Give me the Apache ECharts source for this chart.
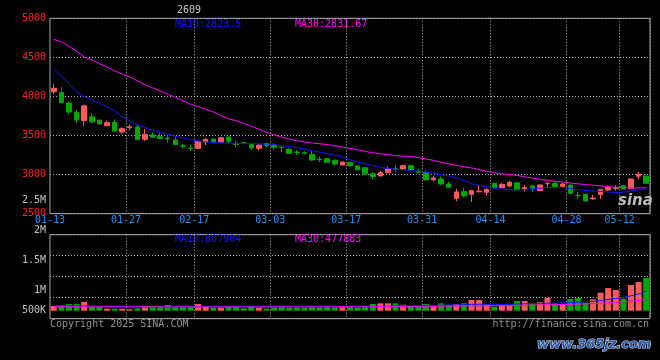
<!DOCTYPE html>
<html><head><meta charset="utf-8">
<script src="https://cdn.jsdelivr.net/npm/echarts@6/dist/echarts.min.js"></script>
<style>html,body{margin:0;padding:0;background:#000;}#c{width:660px;height:360px;}</style>
</head><body><div id="c"></div>
<script>
const dates = ['01-13','01-14','01-15','01-16','01-17','01-20','01-21','01-22','01-23','01-24',
'01-27','02-05','02-06','02-07','02-10','02-11','02-12','02-13','02-14','02-17',
'02-18','02-19','02-20','02-21','02-24','02-25','02-26','02-27','02-28','03-03',
'03-04','03-05','03-06','03-07','03-10','03-11','03-12','03-13','03-14','03-17',
'03-18','03-19','03-20','03-21','03-24','03-25','03-26','03-27','03-28','03-31',
'04-01','04-02','04-03','04-07','04-08','04-09','04-10','04-11','04-14','04-15',
'04-16','04-17','04-18','04-21','04-22','04-23','04-24','04-25','04-28','04-29',
'04-30','05-06','05-07','05-08','05-09','05-12','05-13','05-14','05-15'];
const dateTickLabels = ['01-13','01-27','02-17','03-03','03-17','03-31','04-14','04-28','05-12'];

const openVals = [4060,4050,3915,3795,3690,3740,3698,3625,3668,3545,
3600,3610,3452,3507,3485,3465,3443,3368,3338,3336,
3417,3455,3417,3481,3392,3412,3387,3336,3400,3370,
3350,3323,3288,3280,3259,3198,3204,3182,3123,3157,
3110,3088,3010,2983,3025,3075,3072,3115,3045,3030,
2933,2944,2880,2697,2782,2748,2780,2775,2888,2833,
2855,2895,2816,2855,2795,2885,2889,2850,2867,2735,
2748,2690,2745,2803,2825,2859,2825,2980,2982];
const closeVals = [4104,3920,3800,3700,3880,3675,3648,3665,3558,3588,
3612,3448,3515,3478,3462,3458,3385,3364,3334,3421,
3451,3413,3472,3426,3388,3407,3340,3378,3372,3350,
3346,3272,3284,3275,3187,3194,3157,3136,3161,3114,
3062,3010,2975,3025,3078,3070,3115,3060,3030,2932,
2957,2880,2838,2778,2727,2795,2788,2810,2838,2876,
2901,2805,2833,2818,2868,2890,2846,2880,2761,2730,
2663,2700,2810,2838,2832,2815,2944,3005,2890];
const lowVals = [4031,3915,3775,3660,3625,3660,3645,3622,3550,3519,
3565,3445,3430,3475,3458,3408,3380,3332,3305,3330,
3379,3405,3412,3405,3349,3400,3315,3306,3345,3320,
3293,3265,3250,3258,3180,3161,3150,3120,3118,3100,
3055,3000,2940,2978,3020,3030,3068,3055,3020,2925,
2915,2868,2835,2660,2705,2650,2775,2731,2830,2830,
2838,2800,2782,2782,2790,2838,2840,2845,2755,2684,
2660,2676,2690,2795,2795,2810,2820,2940,2885];
const highVals = [4159,4117,3935,3826,3895,3785,3702,3690,3708,3605,
3640,3643,3583,3536,3528,3515,3478,3392,3380,3443,
3465,3460,3475,3488,3430,3418,3392,3385,3405,3400,
3360,3340,3315,3300,3302,3229,3212,3195,3165,3165,
3115,3095,3030,3047,3102,3123,3128,3125,3072,3051,
2987,2975,2910,2816,2833,2800,2870,2825,2895,2897,
2923,2900,2868,2860,2870,2897,2906,2893,2870,2782,
2752,2740,2815,2863,2863,2865,2950,3034,2995];

const ma10 = [4345,4262,4160,4055,4000,3955,3912,3870,3815,3740,
3690,3635,3605,3565,3540,3515,3490,3468,3448,3432,
3418,3410,3405,3402,3400,3398,3396,3394,3391,3388,
3370,3358,3342,3328,3305,3290,3268,3250,3225,3190,
3160,3140,3118,3092,3080,3070,3062,3050,3045,3030,
3018,3000,2982,2958,2925,2885,2860,2842,2820,2815,
2808,2803,2810,2822,2825,2835,2836,2836,2820,2808,
2798,2790,2786,2778,2770,2775,2790,2805,2823.5];
const ma30 = [4730,4700,4640,4580,4505,4470,4420,4375,4330,4285,
4250,4200,4150,4110,4070,4030,3990,3945,3900,3870,
3835,3800,3755,3715,3690,3655,3620,3580,3540,3510,
3480,3455,3432,3418,3405,3395,3385,3370,3352,3335,
3318,3298,3280,3268,3255,3242,3236,3232,3218,3200,
3182,3160,3136,3120,3100,3085,3065,3042,3025,3008,
3000,2990,2972,2958,2938,2928,2915,2905,2892,2882,
2872,2864,2855,2845,2838,2834,2830,2830,2831.67];

const volumes = [194000,236000,278000,278000,361000,167000,167000,83000,83000,83000,
56000,97000,194000,194000,194000,236000,167000,194000,194000,278000,
194000,125000,125000,194000,194000,97000,194000,125000,83000,139000,
194000,125000,125000,125000,194000,139000,194000,139000,194000,194000,
139000,194000,278000,306000,306000,306000,250000,194000,194000,278000,
194000,306000,236000,278000,306000,444000,444000,264000,167000,236000,
236000,403000,403000,306000,361000,528000,306000,278000,486000,528000,
333000,472000,750000,944000,861000,500000,1069000,1194000,1361000];
const volMa10 = [210000,208000,205000,202000,200000,198000,195000,190000,185000,180000,
170000,160000,150000,145000,145000,148000,150000,155000,160000,165000,
170000,172000,172000,170000,168000,168000,168000,166000,165000,162000,
160000,160000,158000,156000,155000,155000,152000,150000,150000,152000,
155000,160000,168000,180000,190000,200000,205000,210000,212000,215000,
222000,230000,238000,245000,255000,265000,270000,268000,262000,258000,
262000,275000,290000,300000,305000,312000,318000,325000,338000,355000,
372000,390000,420000,470000,510000,555000,620000,700000,807904];
const volMa30 = [165000,165000,164000,164000,163000,163000,162000,162000,161000,161000,
160000,160000,160000,159000,159000,158000,158000,158000,157000,157000,
157000,156000,156000,156000,155000,155000,155000,155000,155000,155000,
156000,156000,156000,157000,157000,158000,158000,159000,160000,161000,
162000,164000,166000,168000,170000,172000,174000,176000,178000,180000,
184000,188000,192000,196000,200000,204000,208000,210000,212000,214000,
218000,222000,228000,234000,240000,246000,252000,258000,266000,274000,
284000,296000,312000,330000,350000,372000,398000,430000,477883];

const priceTicks = {min: 2500, max: 5000, step: 500};
const volTickLabels = {84: '2M', 63: '1.5M', 42: '1M', 21: '500K'};
const legendPrice = ['MA10:2823.5', 'MA30:2831.67'];
const legendVol = ['MA10:807904', 'MA30:477883'];

const MONO = "'DejaVu Sans Mono','Liberation Mono',monospace";
const RED = '#ff5a5a', GREEN = '#00a800', BLUE = '#1414ff', MAG = '#ff00ff';
const GRIDC = '#b0b0b0';
const isTick = (i) => dateTickLabels.indexOf(dates[i]) >= 0;

const chart = echarts.init(document.getElementById('c'), null, {renderer: 'canvas'});
const dotted = {color: GRIDC, type: [1, 2], width: 1};

chart.setOption({
  animation: false,
  backgroundColor: '#000',
  grid: [
    {left: 50, top: 18.3, width: 600, height: 195.4, show: true, borderColor: '#a8a8a8', borderWidth: 1},
    {left: 50, top: 234.7, width: 600, height: 84, show: true, borderColor: '#a8a8a8', borderWidth: 1}
  ],
  xAxis: [
    {type: 'category', gridIndex: 0, data: dates, boundaryGap: true,
     axisLine: {show: false}, axisTick: {show: false},
     axisLabel: {interval: (i) => isTick(i), color: '#1e90ff', fontFamily: MONO, fontSize: 10, margin: 2, padding: [0, 7.6, 0, 0]},
     splitLine: {show: true, interval: (i) => isTick(i) && i > 0, lineStyle: dotted}},
    {type: 'category', gridIndex: 1, data: dates, boundaryGap: true,
     axisLine: {show: false}, axisTick: {show: false}, axisLabel: {show: false},
     splitLine: {show: true, interval: (i) => isTick(i) && i > 0, lineStyle: dotted}}
  ],
  yAxis: [
    {type: 'value', gridIndex: 0, min: priceTicks.min, max: priceTicks.max, interval: priceTicks.step,
     axisLine: {show: false}, axisTick: {show: false},
     axisLabel: {color: '#ff2020', fontFamily: MONO, fontSize: 10, margin: 4, padding: [0, 0, 4, 0],
       formatter: (v) => String(v)},
     splitLine: {show: true, lineStyle: dotted}},
    {type: 'value', gridIndex: 1, min: -333333, max: 3166667,
     axisLine: {show: false}, axisTick: {show: false}, axisLabel: {show: false}, splitLine: {show: false}},
    {type: 'value', gridIndex: 1, min: 0, max: 84, interval: 21, position: 'left',
     axisLine: {show: false}, axisTick: {show: false},
     axisLabel: {margin: 4, color: '#c0c0c0', fontFamily: MONO, fontSize: 10,
       formatter: (v) => {
         const t = volTickLabels[v]; if (!t) return '';
         const k = {84: 'a', 63: 'b', 42: 'c', 21: 'd'}[v];
         return '{' + k + '|' + t + '}';
       },
       rich: {
         a: {color: '#c0c0c0', fontFamily: MONO, fontSize: 10, padding: [0, 0, 8, 0]},
         b: {color: '#c0c0c0', fontFamily: MONO, fontSize: 10, padding: [9, 0, 0, 0]},
         c: {color: '#c0c0c0', fontFamily: MONO, fontSize: 10, padding: [27, 0, 0, 0]},
         d: {color: '#c0c0c0', fontFamily: MONO, fontSize: 10, padding: [25, 0, 0, 0]}
       }},
     splitLine: {show: true, lineStyle: dotted}}
  ],
  series: [
    {type: 'candlestick', xAxisIndex: 0, yAxisIndex: 0, barWidth: 5,
     data: dates.map((d, i) => [openVals[i], closeVals[i], lowVals[i], highVals[i]]),
     itemStyle: {color: RED, color0: GREEN, borderColor: RED, borderColor0: GREEN, borderWidth: 1}},
    {type: 'line', xAxisIndex: 0, yAxisIndex: 0, data: ma10, symbol: 'none', lineStyle: {color: BLUE, width: 1}, z: 3},
    {type: 'line', xAxisIndex: 0, yAxisIndex: 0, data: ma30, symbol: 'none', lineStyle: {color: MAG, width: 1}, z: 3},
    {type: 'bar', xAxisIndex: 1, yAxisIndex: 1, barWidth: 6,
     data: volumes.map((v, i) => ({value: v, itemStyle: {color: closeVals[i] >= openVals[i] ? RED : GREEN}}))},
    {type: 'line', xAxisIndex: 1, yAxisIndex: 1, data: volMa10, symbol: 'none', lineStyle: {color: BLUE, width: 1}, z: 3},
    {type: 'line', xAxisIndex: 1, yAxisIndex: 1, data: volMa30, symbol: 'none', lineStyle: {color: MAG, width: 1}, z: 3}
  ],
  graphic: [
    {type: 'text', x: 177, y: 10, style: {text: '2609', fill: '#c8c8c8', fontFamily: MONO, fontSize: 10, verticalAlign: 'middle'}},
    {type: 'text', x: 175, y: 24, style: {text: legendPrice[0], fill: BLUE, fontFamily: MONO, fontSize: 10, verticalAlign: 'middle'}},
    {type: 'text', x: 295, y: 24, style: {text: legendPrice[1], fill: MAG, fontFamily: MONO, fontSize: 10, verticalAlign: 'middle'}},
    {type: 'text', x: 175, y: 239, style: {text: legendVol[0], fill: BLUE, fontFamily: MONO, fontSize: 10, verticalAlign: 'middle'}},
    {type: 'text', x: 295, y: 239, style: {text: legendVol[1], fill: MAG, fontFamily: MONO, fontSize: 10, verticalAlign: 'middle'}},
    {type: 'text', x: 46, y: 200, style: {text: '2.5M', fill: '#c0c0c0', fontFamily: MONO, fontSize: 10, align: 'right', verticalAlign: 'middle'}},
    {type: 'text', x: 50, y: 324, style: {text: 'Copyright 2025 SINA.COM', fill: '#909090', fontFamily: MONO, fontSize: 10, verticalAlign: 'middle'}},
    {type: 'text', x: 649, y: 324, style: {text: 'http://finance.sina.com.cn', fill: '#909090', fontFamily: MONO, fontSize: 10, align: 'right', verticalAlign: 'middle'}},
    {type: 'text', x: 618, y: 201, z: -1, style: {text: 'sina', fill: '#bdbdbd', font: 'italic bold 15px "DejaVu Sans"', verticalAlign: 'middle'}},
    {type: 'text', x: 537, y: 345, style: {text: 'www.365jz.com', fill: '#2a5aa8', stroke: '#dfe8ff', lineWidth: 1, font: 'italic bold 13px "DejaVu Sans"', verticalAlign: 'middle'}}
  ]
});
</script>
</body></html>
